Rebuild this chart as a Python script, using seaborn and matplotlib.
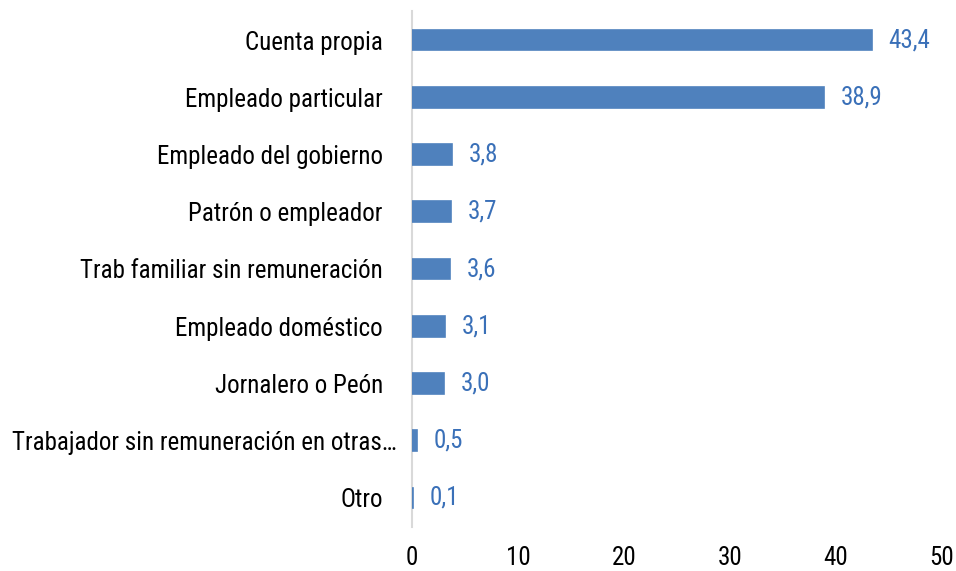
import matplotlib
matplotlib.use("Agg")
import matplotlib.pyplot as plt
import matplotlib.transforms as mtransforms
import seaborn as sns
import pandas as pd

categories = ["Cuenta propia", "Empleado particular", "Empleado del gobierno",
              "Patrón o empleador", "Trab familiar sin remuneración",
              "Empleado doméstico", "Jornalero o Peón",
              "Trabajador sin remuneración en otras…", "Otro"]
values = [43.4, 38.9, 3.8, 3.7, 3.6, 3.1, 3.0, 0.5, 0.1]
value_labels = ["43,4", "38,9", "3,8", "3,7", "3,6", "3,1", "3,0", "0,5", "0,1"]
xticks = [0, 10, 20, 30, 40, 50]

sns.set_theme(style="white")
plt.rcParams['font.family'] = ['Roboto Condensed', 'Liberation Sans', 'DejaVu Sans']

df = pd.DataFrame({"cat": categories, "val": values})

fig = plt.figure(figsize=(9.56, 5.71), dpi=100)
ax = fig.add_axes([412/956, 1 - 526.6/571, 530/956, (526.6 - 11.4)/571])
sns.barplot(data=df, y="cat", x="val", orient="h", color="#4f81bd",
            saturation=1, width=0.36, edgecolor="#4f81bd", linewidth=1.2, ax=ax)

for i, (v, lab) in enumerate(zip(values, value_labels)):
    ax.annotate(lab, xy=(v, i), xytext=(12, 0), textcoords="offset points",
                ha="left", va="center", color="#3a70b8", fontsize=18)

ax.set_xlim(0, 50)
ax.set_ylim(8.5, -0.5)
ax.set_xticks(xticks)
ax.set_xticklabels([str(t) for t in xticks], fontsize=18, color="black")
ax.tick_params(axis="y", labelsize=18, length=0, pad=21, labelcolor="black")
ax.tick_params(axis="x", length=0, pad=14)
ax.set_xlabel("")
ax.set_ylabel("")
for s in ["top", "right", "bottom"]:
    ax.spines[s].set_visible(False)
ax.spines["left"].set_color("#d9d9d9")
ax.spines["left"].set_linewidth(1.5)
ax.spines["left"].set_zorder(0)

# the long label sits closer to the axis in the reference
long_lab = ax.get_yticklabels()[7]
long_lab.set_transform(long_lab.get_transform() +
                       mtransforms.ScaledTranslation(14/100, 0, fig.dpi_scale_trans))

fig.savefig("out.png", dpi=100)
